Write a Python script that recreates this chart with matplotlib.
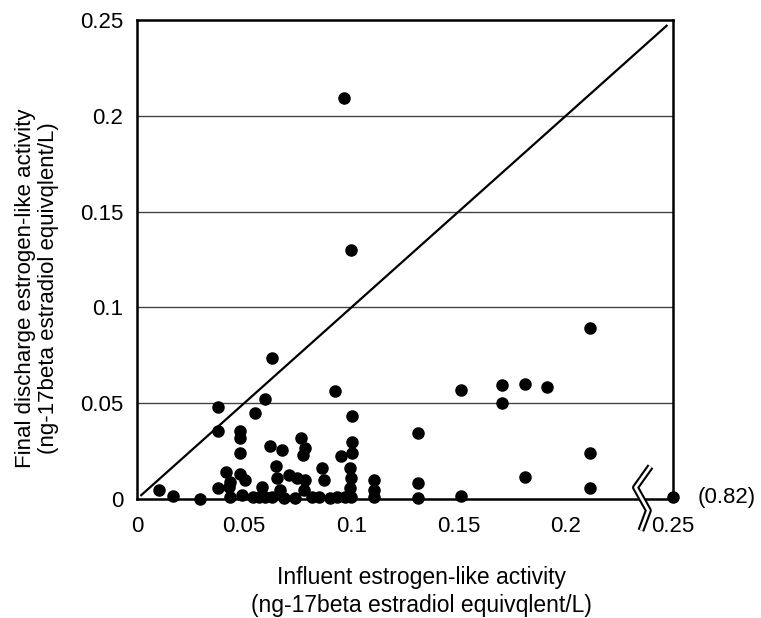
import matplotlib.pyplot as plt
import numpy as np

plt.rcParams['font.family'] = ['Liberation Sans', 'DejaVu Sans']

# influent (x) vs final discharge (y) estrogen-like activity, ng-E2 eq/L
influent = [0.0104, 0.0167, 0.0294, 0.0377, 0.0377, 0.0380, 0.0414, 0.0427,
            0.0435, 0.0435, 0.0481, 0.0481, 0.0481, 0.0481, 0.0505, 0.0489,
            0.0543, 0.0551, 0.0567, 0.0583, 0.0595, 0.0598, 0.0621, 0.0629,
            0.0629, 0.0648, 0.0653, 0.0668, 0.0676, 0.0684, 0.0707, 0.0738,
            0.0746, 0.0765, 0.0785, 0.0774, 0.0785, 0.0777, 0.0816, 0.0847,
            0.0863, 0.0871, 0.0902, 0.0925, 0.0933, 0.0952, 0.0964, 0.0972,
            0.1000, 0.1003, 0.1003, 0.1003, 0.0995, 0.1000, 0.0995, 0.1000,
            0.1104, 0.1104, 0.1104, 0.1310, 0.1310, 0.1310, 0.1513, 0.1513,
            0.1704, 0.1704, 0.1808, 0.1808, 0.1914, 0.2114, 0.2114, 0.2114]
final = [0.0047, 0.0016, 0.0002, 0.0479, 0.0355, 0.0056, 0.0143, 0.0064,
         0.0090, 0.0012, 0.0355, 0.0317, 0.0238, 0.0130, 0.0099, 0.0020,
         0.0012, 0.0450, 0.0012, 0.0064, 0.0524, 0.0012, 0.0277, 0.0734,
         0.0012, 0.0173, 0.0108, 0.0047, 0.0256, 0.0004, 0.0123, 0.0004,
         0.0108, 0.0317, 0.0265, 0.0230, 0.0099, 0.0047, 0.0012, 0.0012,
         0.0160, 0.0099, 0.0004, 0.0565, 0.0012, 0.0226, 0.2094, 0.0012,
         0.1300, 0.0433, 0.0299, 0.0238, 0.0160, 0.0108, 0.0056, 0.0012,
         0.0099, 0.0047, 0.0012, 0.0346, 0.0085, 0.0004, 0.0569, 0.0016,
         0.0595, 0.0500, 0.0598, 0.0113, 0.0583, 0.0894, 0.0242, 0.0059]

# one sample beyond the axis break
outlier_x = 0.82
outlier_y = 0.001

ticks = [0, 0.05, 0.1, 0.15, 0.2, 0.25]
tick_labels = ['0', '0.05', '0.1', '0.15', '0.2', '0.25']
axis_max = 0.25

fig = plt.figure(figsize=(7.61, 6.18), dpi=100)
ax = fig.add_axes([0.18, 0.1926, 0.7044, 0.775])

ax.set_xlim(0, axis_max)
ax.set_ylim(0, axis_max)

for g in ticks[1:-1]:
    ax.axhline(g, color='#444444', lw=1.0, zorder=1)

# 1:1 line
ax.plot([0.002, 0.247], [0.002, 0.247], color='black', lw=1.6, zorder=2)

ax.scatter(influent, final, s=64, color='black', zorder=3, clip_on=False)
ax.scatter([axis_max], [outlier_y], s=64, color='black', zorder=5, clip_on=False)
ax.annotate('(%.2f)' % outlier_x, xy=(axis_max, outlier_y), xytext=(18, 0),
            textcoords='offset points', va='center', ha='left', fontsize=16)

for s in ax.spines.values():
    s.set_linewidth(1.8)
    s.set_color('black')

ax.set_xticks(ticks)
ax.set_xticklabels(tick_labels)
ax.set_yticks(ticks)
ax.set_yticklabels(tick_labels)
ax.tick_params(length=0, labelsize=16, pad=10)
ax.tick_params(axis='x', pad=12)

# axis break mark on the bottom spine
bx = np.array([0.2395, 0.2325, 0.2385, 0.2350])
by = np.array([0.0170, 0.0060, -0.0060, -0.0165])
ax.plot(bx, by, color='black', lw=5, solid_capstyle='butt', clip_on=False, zorder=4)
ax.plot(bx, by, color='white', lw=2, solid_capstyle='butt', clip_on=False, zorder=4)

ax.set_xlabel('Influent estrogen-like activity\n(ng-17beta estradiol equivqlent/L)',
              fontsize=16.5, linespacing=1.3)
ax.xaxis.set_label_coords(0.53, -0.14, transform=ax.transAxes)
ax.xaxis.label.set_va('top')
ax.set_ylabel('Final discharge estrogen-like activity\n(ng-17beta estradiol equivqlent/L)',
              fontsize=16, linespacing=1.15)
ax.yaxis.set_label_coords(-0.145, 0.44, transform=ax.transAxes)

fig.savefig('out.png', dpi=100)
